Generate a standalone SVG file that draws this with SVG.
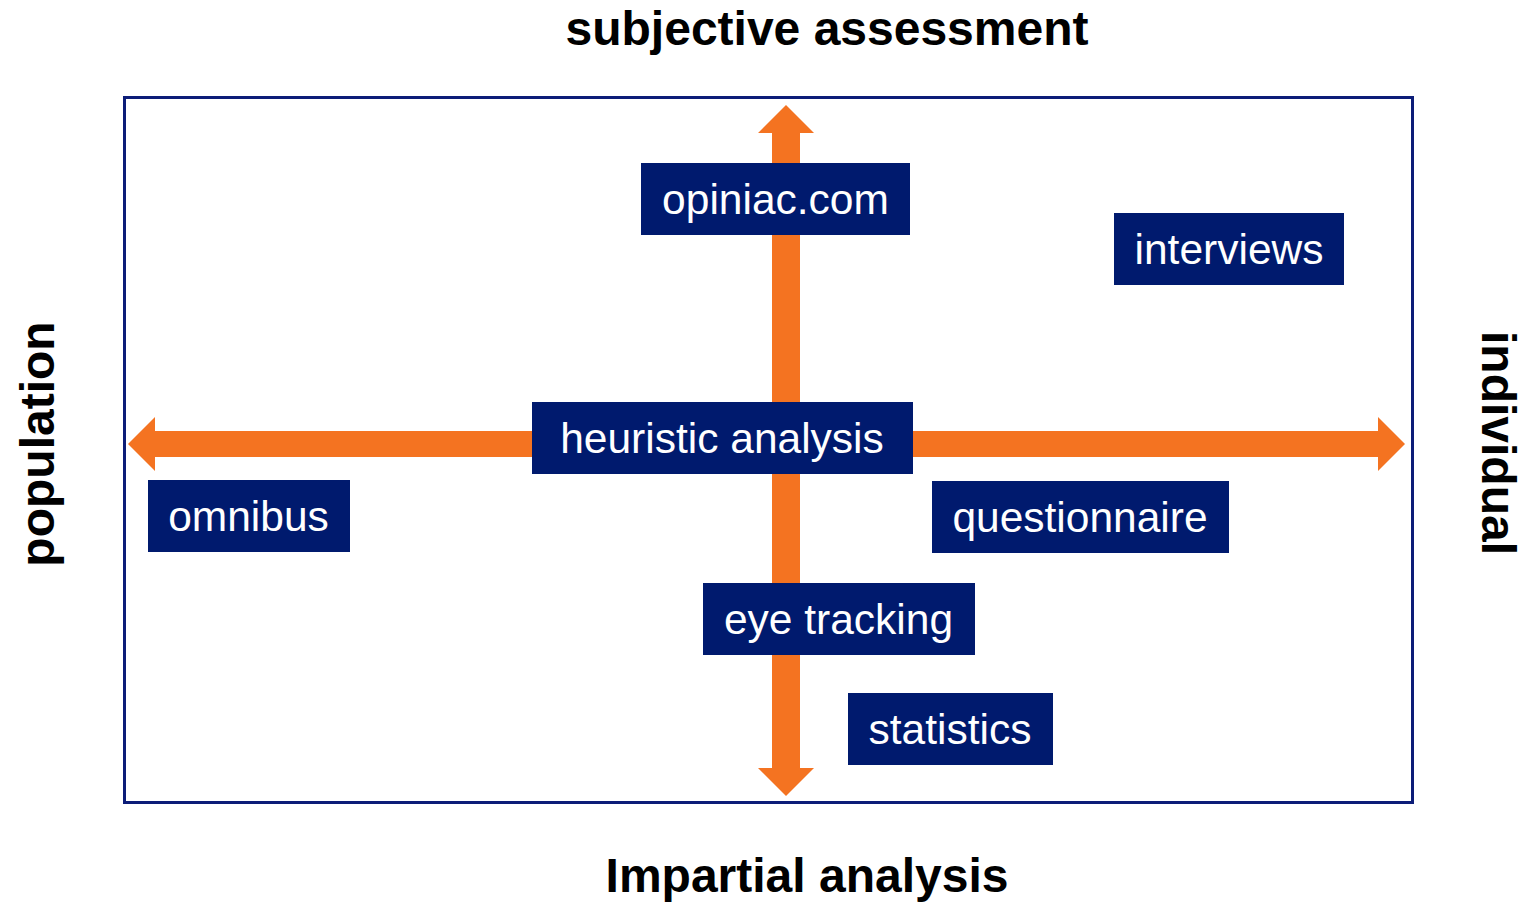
<svg xmlns="http://www.w3.org/2000/svg" width="1526" height="903" viewBox="0 0 1526 903">
  <style>
    .frame { fill: none; stroke: #0c1d78; stroke-width: 3; }
    .axis { fill: #f47321; }
    .box { fill: #001a6e; }
    .label { font-family: "Liberation Sans", Arial, sans-serif; font-size: 42.5px; fill: #ffffff; text-anchor: middle; }
    .title { font-family: "Liberation Sans", Arial, sans-serif; font-size: 48px; font-weight: bold; fill: #000000; text-anchor: middle; }
  </style>
  <rect width="1526" height="903" fill="#ffffff"/>

  <!-- outer frame -->
  <rect class="frame" x="124.5" y="97.5" width="1288" height="705"/>

  <!-- axis arrows -->
  <g id="connectors">
    <!-- vertical double arrow -->
    <polygon class="axis" points="786,105 814,133 800,133 800,768 814,768 786,796 758,768 772,768 772,133 758,133"/>
    <!-- horizontal double arrow -->
    <polygon class="axis" points="128,444 155,417 155,431 1378,431 1378,417 1405,444 1378,471 1378,457 155,457 155,471"/>
  </g>

  <!-- axis titles -->
  <text class="title" x="827" y="45">subjective assessment</text>
  <text class="title" x="807" y="892">Impartial analysis</text>
  <text class="title" transform="translate(54,444) rotate(-90)">population</text>
  <text class="title" transform="translate(1482,443) rotate(90)">individual</text>

  <!-- method nodes -->
  <g id="node-opiniac">
    <rect class="box" x="641" y="163" width="269" height="72"/>
    <text class="label" x="775.5" y="214">opiniac.com</text>
  </g>
  <g id="node-interviews">
    <rect class="box" x="1114" y="213" width="230" height="72"/>
    <text class="label" x="1229" y="264">interviews</text>
  </g>
  <g id="node-heuristic">
    <rect class="box" x="532" y="402" width="381" height="72"/>
    <text class="label" x="722" y="453">heuristic analysis</text>
  </g>
  <g id="node-omnibus">
    <rect class="box" x="148" y="480" width="202" height="72"/>
    <text class="label" x="248.5" y="531">omnibus</text>
  </g>
  <g id="node-questionnaire">
    <rect class="box" x="932" y="481" width="297" height="72"/>
    <text class="label" x="1080" y="532">questionnaire</text>
  </g>
  <g id="node-eyetracking">
    <rect class="box" x="703" y="583" width="272" height="72"/>
    <text class="label" x="838.5" y="634">eye tracking</text>
  </g>
  <g id="node-statistics">
    <rect class="box" x="848" y="693" width="205" height="72"/>
    <text class="label" x="950" y="744">statistics</text>
  </g>
</svg>
